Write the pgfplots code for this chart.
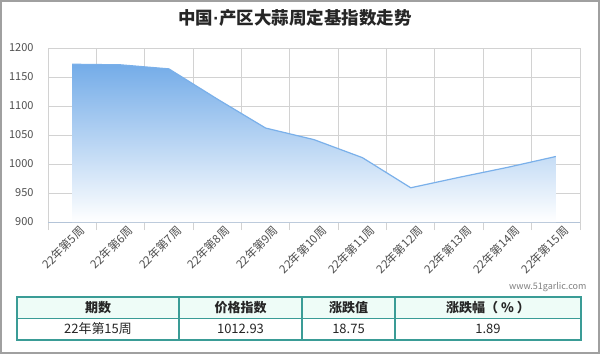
\documentclass[border=0pt]{standalone}
\usepackage{fontspec}
\setmainfont{Noto Sans CJK SC}
\newfontfamily\latinfont{Liberation Sans}
\usepackage{pgfplots}
\pgfplotsset{compat=1.18}
\definecolor{gridc}{RGB}{210,210,210}
\definecolor{axc}{RGB}{180,196,216}
\definecolor{areatop}{RGB}{116,172,232}
\definecolor{linec}{RGB}{122,176,234}
\definecolor{txt}{RGB}{80,80,80}
\definecolor{tbl}{RGB}{58,156,150}
\definecolor{hdr}{RGB}{238,252,247}
\definecolor{frame}{RGB}{160,160,160}
\begin{document}
\begin{tikzpicture}[x=1pt,y=1pt]
\useasboundingbox (0,0) rectangle (600,354);
\fill[white] (0,0) rectangle (600,354);
\node[font=\fontsize{17.5}{20}\selectfont\bfseries, text=black!85] at (295,336) {中国{\latinfont\bfseries·}产区大蒜周定基指数走势};
\begin{axis}[at={(48pt,132pt)}, anchor=south west, scale only axis,
  width=532pt, height=174pt,
  xmin=-0.5, xmax=10.5, ymin=900, ymax=1200,
  xtick={0,...,10},
  xticklabels={22年第5周,22年第6周,22年第7周,22年第8周,22年第9周,22年第10周,22年第11周,22年第12周,22年第13周,22年第14周,22年第15周},
  minor xtick={-0.5,0.5,1.5,2.5,3.5,4.5,5.5,6.5,7.5,8.5,9.5,10.5},
  ytick={900,950,...,1200},
  xminorgrids=true, ymajorgrids=true, xmajorgrids=false,
  grid style={gridc, line width=0.9pt},
  minor grid style={gridc, line width=0.9pt},
  axis x line*=bottom, axis y line*=left,
  x axis line style={axc, line width=1pt, -},
  y axis line style={draw=none},
  major tick length=0pt, minor tick length=8pt, tick align=outside,
  minor tick style={gridc, line width=0.9pt},
  /pgf/number format/assume math mode=true,
  /pgf/number format/1000 sep={},
  ticklabel style={font=\fontsize{11}{13}\selectfont, text=txt},
  yticklabel style={xshift=-11pt},
  xticklabel style={rotate=45, anchor=east, font=\fontsize{11.5}{13}\selectfont, yshift=-12pt, xshift=6pt},
  clip=false,
]
\addplot[draw=none, top color=areatop, bottom color=white] coordinates {
 (0,900) (0,1172) (1,1171) (2,1164) (3,1112) (4,1062) (5,1042) (6,1011) (7,959) (8,977) (9,994.18) (10,1012.93) (10,900)
} -- cycle;
\addplot[linec, line width=1.2pt, mark=none] coordinates {
 (0,1172) (1,1171) (2,1164) (3,1112) (4,1062) (5,1042) (6,1011) (7,959) (8,977) (9,994.18) (10,1012.93)
};
\end{axis}
\node[anchor=east, font=\fontsize{9}{11}\selectfont, text=black!50] at (590,67) {www.51garlic.com};
% table
\fill[hdr] (17,35.5) rectangle (581,57);
\draw[tbl, line width=1.3pt] (17,14) rectangle (581,57);
\draw[tbl, line width=1.3pt] (17,35.5) -- (581,35.5);
\foreach \xx in {179,302,395} \draw[tbl, line width=1.3pt] (\xx,14) -- (\xx,57);
\begin{scope}[every node/.style={font=\fontsize{13}{15}\selectfont, text=black!85}]
\node[font=\fontsize{13}{15}\selectfont\bfseries] at (98,46.5) {期数};
\node[font=\fontsize{13}{15}\selectfont\bfseries] at (240.5,46.5) {价格指数};
\node[font=\fontsize{13}{15}\selectfont\bfseries] at (348.5,46.5) {涨跌值};
\node[font=\fontsize{13}{15}\selectfont\bfseries] at (488,46.5) {涨跌幅（ \% ）};
\node at (98,25) {22年第15周};
\node at (240.5,25) {1012.93};
\node at (348.5,25) {18.75};
\node at (488,25) {1.89};
\end{scope}
\draw[frame, line width=2pt] (1,1) rectangle (599,353);
\end{tikzpicture}
\end{document}
